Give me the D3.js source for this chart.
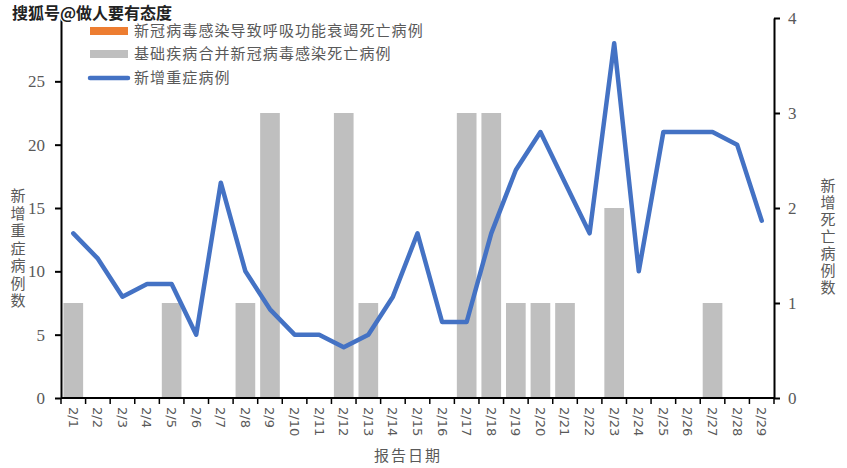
<!DOCTYPE html>
<html><head><meta charset="utf-8">
<script src="https://cdn.jsdelivr.net/npm/d3@7"></script>
<style>body{margin:0;background:#fff}svg{display:block}</style>
</head><body>
<svg id="c" width="847" height="468"></svg>
<script>
const dates = ["2/1","2/2","2/3","2/4","2/5","2/6","2/7","2/8","2/9","2/10","2/11","2/12","2/13","2/14","2/15","2/16","2/17","2/18","2/19","2/20","2/21","2/22","2/23","2/24","2/25","2/26","2/27","2/28","2/29"];
const respDeaths = [0,0,0,0,0,0,0,0,0,0,0,0,0,0,0,0,0,0,0,0,0,0,0,0,0,0,0,0,0];
const comorbDeaths = [1,0,0,0,1,0,0,1,3,0,0,3,1,0,0,0,3,3,1,1,1,0,2,0,0,0,1,0,0];
const severeCases = [13,11,8,9,9,5,17,10,7,5,5,4,5,8,13,6,6,13,18,21,17,13,28,10,21,21,21,20,14];
const leftTicks = [0,5,10,15,20,25];
const rightTicks = [0,1,2,3,4];
const legendLabels = ["新冠病毒感染导致呼吸功能衰竭死亡病例","基础疾病合并新冠病毒感染死亡病例","新增重症病例"];
const colors = ["#ED7D31","#BFBFBF","#4472C4"];

const svg = d3.select("#c");
const L = 61, R = 774, T = 18, B = 398;
const x = d3.scaleBand().domain(dates).range([L, R]).paddingInner(0).paddingOuter(0);
const yL = d3.scaleLinear().domain([0, 30]).range([B, T]);
const yR = d3.scaleLinear().domain([0, 4]).range([B, T]);
const bw = x.bandwidth() * 0.8;

// bars
svg.append("g").selectAll("rect").data(dates).join("rect")
  .attr("x", d => x(d) + (x.bandwidth() - bw) / 2)
  .attr("width", bw)
  .attr("y", (d, i) => yR(comorbDeaths[i]))
  .attr("height", (d, i) => B - yR(comorbDeaths[i]))
  .attr("fill", colors[1]);
svg.append("g").selectAll("rect").data(dates).join("rect")
  .attr("x", d => x(d) + (x.bandwidth() - bw) / 2)
  .attr("width", bw)
  .attr("y", (d, i) => yR(respDeaths[i]))
  .attr("height", (d, i) => B - yR(respDeaths[i]))
  .attr("fill", colors[0]);

// line
const line = d3.line().x((d, i) => x(dates[i]) + x.bandwidth() / 2).y(d => yL(d));
svg.append("path").datum(severeCases).attr("d", line)
  .attr("fill", "none").attr("stroke", colors[2]).attr("stroke-width", 4.5)
  .attr("stroke-linejoin", "round").attr("stroke-linecap", "round");

// axes
const gl = svg.append("g").attr("transform", `translate(${L},0)`)
  .call(d3.axisLeft(yL).tickValues(leftTicks).tickFormat(d3.format("d")).tickSize(6).tickSizeOuter(0).tickPadding(10));
const gr = svg.append("g").attr("transform", `translate(${R},0)`)
  .call(d3.axisRight(yR).tickValues(rightTicks).tickFormat(d3.format("d")).tickSize(6).tickSizeOuter(0).tickPadding(8));
[gl, gr].forEach(g => {
  g.select(".domain").attr("stroke", "#000").attr("stroke-width", 2);
  g.selectAll(".tick line").attr("stroke", "#000").attr("stroke-width", 2);
  g.selectAll(".tick text").attr("font-family", "'Liberation Serif', serif")
    .attr("font-size", 17).attr("fill", "#595959");
});

const gx = svg.append("g").attr("transform", `translate(0,${B})`);
gx.append("line").attr("x1", L).attr("x2", R).attr("y1", 0).attr("y2", 0)
  .attr("stroke", "#000").attr("stroke-width", 2);
const bounds = dates.map(d => x(d)).concat([R]);
gx.selectAll("line.t").data(bounds).join("line").attr("class", "t")
  .attr("x1", d => d).attr("x2", d => d).attr("y1", 0).attr("y2", 6)
  .attr("stroke", "#000").attr("stroke-width", 1.5);
gx.selectAll("text").data(dates).join("text")
  .attr("transform", d => `translate(${x(d) + x.bandwidth() / 2},9) rotate(90)`)
  .attr("dy", "0.35em").attr("text-anchor", "start")
  .attr("font-family", "'DejaVu Sans', sans-serif").attr("font-size", 13).attr("fill", "#595959")
  .text(d => d);

// axis titles (vertical writing)
const cjk = "'Noto Sans CJK SC', sans-serif";
function vtext(str, cx, y0, spacing) {
  svg.append("text").attr("x", cx).attr("y", y0)
    .attr("writing-mode", "tb").style("writing-mode", "vertical-rl")
    .attr("letter-spacing", spacing)
    .attr("font-family", cjk).attr("font-size", 15).attr("fill", "#595959").text(str);
}
vtext("新增重症病例数", 18, 188, 2.5);
vtext("新增死亡病例数", 828, 178, 2);
svg.append("text").attr("x", 408).attr("y", 461).attr("text-anchor", "middle")
  .attr("font-family", cjk).attr("font-size", 15).attr("fill", "#595959").attr("letter-spacing", 2).text("报告日期");

// legend
const lg = svg.append("g");
const ly = [31, 54, 78];
lg.append("rect").attr("x", 90).attr("y", ly[0] - 4).attr("width", 38).attr("height", 8).attr("fill", colors[0]);
lg.append("rect").attr("x", 90).attr("y", ly[1] - 4).attr("width", 38).attr("height", 8).attr("fill", colors[1]);
lg.append("line").attr("x1", 90).attr("x2", 128).attr("y1", ly[2]).attr("y2", ly[2])
  .attr("stroke", colors[2]).attr("stroke-width", 4.5).attr("stroke-linecap", "round");
lg.selectAll("text").data(legendLabels).join("text")
  .attr("x", 134).attr("y", (d, i) => ly[i]).attr("dy", "0.35em")
  .attr("font-family", cjk).attr("font-size", 15).attr("letter-spacing", 1.1).attr("fill", "#595959").text(d => d);

// watermark
svg.append("text").attr("x", 12).attr("y", 19)
  .attr("font-family", cjk).attr("font-weight", "bold").attr("font-size", 16)
  .attr("fill", "#222").attr("stroke", "#fff").attr("stroke-width", 2.5).attr("paint-order", "stroke")
  .text("搜狐号@做人要有态度");
</script>
</body></html>
